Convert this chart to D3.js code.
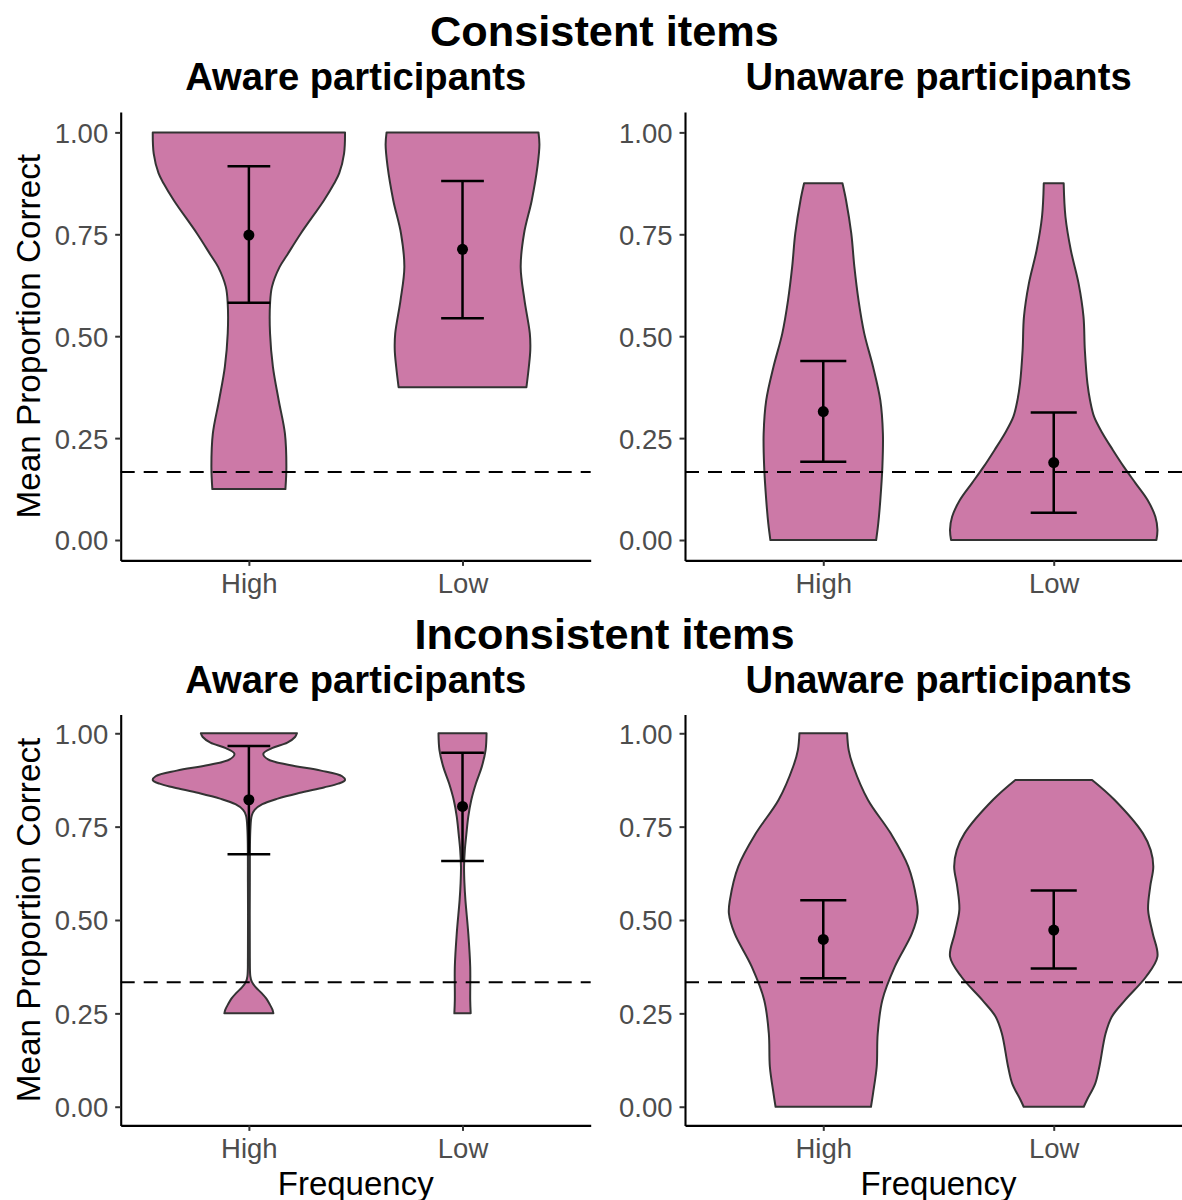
<!DOCTYPE html>
<html>
<head>
<meta charset="utf-8">
<script src="https://cdn.jsdelivr.net/npm/d3@7"></script>
<style>
  body { margin: 0; background: #ffffff; }
  text { font-family: "Liberation Sans", Arial, Helvetica, sans-serif; }
</style>
</head>
<body>
<svg id="chart" width="1182" height="1200"></svg>
<script>
// ---- Data -------------------------------------------------------------
const frequencies = ["High", "Low"];
const yTicks = [0, 0.25, 0.5, 0.75, 1];
const chanceConsistent = 0.1667;
const chanceInconsistent = 0.3333;

// Violin density profiles: [proportion correct, scaled density (1 = widest in panel)]
const caHighDensity = [[0.125,0.38],[0.18,0.39],[0.261,0.375],[0.343,0.31],[0.425,0.25],[0.507,0.22],[0.58,0.22],[0.621,0.24],[0.67,0.32],[0.7,0.40],[0.752,0.54],[0.833,0.78],[0.874,0.885],[0.9,0.94],[0.948,0.99],[1.0,1.0]];
const caLowDensity = [[0.375,0.665],[0.425,0.69],[0.466,0.705],[0.507,0.70],[0.588,0.645],[0.67,0.605],[0.752,0.64],[0.833,0.72],[0.917,0.78],[0.97,0.80],[1.0,0.79]];
const cuHighDensity = [[0,0.51],[0.04,0.53],[0.098,0.55],[0.18,0.57],[0.261,0.575],[0.343,0.55],[0.425,0.48],[0.507,0.395],[0.588,0.34],[0.67,0.30],[0.752,0.27],[0.833,0.22],[0.875,0.185]];
const cuLowDensity = [[0,0.99],[0.025,1.0],[0.057,0.98],[0.098,0.905],[0.139,0.79],[0.18,0.675],[0.221,0.57],[0.262,0.47],[0.302,0.39],[0.343,0.35],[0.384,0.325],[0.466,0.30],[0.548,0.287],[0.629,0.24],[0.711,0.165],[0.793,0.113],[0.875,0.096]];
const iaHighDensity = [[0.25,0.255],[0.26,0.245],[0.275,0.215],[0.29,0.18],[0.305,0.13],[0.32,0.07],[0.335,0.03],[0.35,0.015],[0.4,0.01],[0.6,0.01],[0.74,0.015],[0.78,0.03],[0.795,0.06],[0.81,0.14],[0.825,0.30],[0.84,0.52],[0.855,0.78],[0.865,0.93],[0.875,1.0],[0.885,0.97],[0.9,0.75],[0.915,0.42],[0.93,0.20],[0.945,0.15],[0.96,0.24],[0.975,0.40],[0.99,0.48],[1.0,0.50]];
const iaLowDensity = [[0.25,0.085],[0.286,0.08],[0.375,0.08],[0.464,0.06],[0.554,0.03],[0.598,0.02],[0.643,0.016],[0.687,0.024],[0.73,0.04],[0.777,0.06],[0.82,0.09],[0.866,0.14],[0.91,0.20],[0.955,0.24],[1.0,0.25]];
const iuHighDensity = [[0,0.46],[0.036,0.48],[0.107,0.515],[0.196,0.525],[0.286,0.57],[0.375,0.69],[0.464,0.855],[0.518,0.91],[0.554,0.90],[0.643,0.82],[0.732,0.65],[0.822,0.43],[0.911,0.29],[0.955,0.245],[1.0,0.23]];
const iuLowDensity = [[0,0.29],[0.018,0.32],[0.062,0.40],[0.107,0.44],[0.196,0.50],[0.241,0.56],[0.286,0.69],[0.348,0.89],[0.402,1.0],[0.464,0.955],[0.527,0.91],[0.589,0.93],[0.643,0.96],[0.687,0.935],[0.732,0.86],[0.822,0.585],[0.875,0.37]];

// Means with lower / upper error-bar limits, ordered as frequencies
const caMean = [0.748, 0.713], caLower = [0.582, 0.544], caUpper = [0.917, 0.881];
const cuMean = [0.315, 0.190], cuLower = [0.192, 0.067], cuUpper = [0.439, 0.313];
const iaMean = [0.822, 0.804], iaLower = [0.676, 0.658], iaUpper = [0.966, 0.948];
const iuMean = [0.448, 0.473], iuLower = [0.344, 0.370], iuUpper = [0.553, 0.579];

const groupTitles = ["Consistent items", "Inconsistent items"];
const panelTitles = ["Aware participants", "Unaware participants"];
const yTitle = "Mean Proportion Correct";
const xTitle = "Frequency";

// ---- Layout -----------------------------------------------------------
const cols = [{ left: 120.7, right: 590.7 }, { left: 685, right: 1192 }];
const rows = [{ top: 112, bottom: 560.4, offset: 0 }, { top: 714.6, bottom: 1125.4, offset: 603 }];
const fill = "#CC79A7";
const outline = "#333333";
const tickGrey = "#4D4D4D";

const panels = [
  { row: 0, col: 0, dens: [caHighDensity, caLowDensity], mean: caMean, lo: caLower, hi: caUpper, chance: chanceConsistent },
  { row: 0, col: 1, dens: [cuHighDensity, cuLowDensity], mean: cuMean, lo: cuLower, hi: cuUpper, chance: chanceConsistent },
  { row: 1, col: 0, dens: [iaHighDensity, iaLowDensity], mean: iaMean, lo: iaLower, hi: iaUpper, chance: chanceInconsistent },
  { row: 1, col: 1, dens: [iuHighDensity, iuLowDensity], mean: iuMean, lo: iuLower, hi: iuUpper, chance: chanceInconsistent }
];

const svg = d3.select("#chart");
svg.append("rect").attr("width", 1182).attr("height", 1200).attr("fill", "#fff");

// Group titles
groupTitles.forEach((t, i) => {
  svg.append("text")
    .attr("x", 604.5).attr("y", 46 + rows[i].offset)
    .attr("text-anchor", "middle")
    .attr("font-size", 43.3).attr("font-weight", "bold").attr("fill", "#000")
    .text(t);
});

panels.forEach(p => {
  const c = cols[p.col], r = rows[p.row];
  const g = svg.append("g");

  const x = d3.scalePoint().domain(frequencies).range([c.left, c.right]).padding(0.6);
  const y = d3.scaleLinear().domain([-0.05, 1.05]).range([r.bottom, r.top]);
  const half = d3.scaleLinear().domain([0, 1]).range([0, 0.45 * x.step()]);
  const cap = 0.1 * x.step();

  // Panel title
  g.append("text")
    .attr("x", (c.left + c.right) / 2).attr("y", 90 + r.offset)
    .attr("text-anchor", "middle")
    .attr("font-size", 38.2).attr("font-weight", "bold").attr("fill", "#000")
    .text(panelTitles[p.col]);

  // Violins
  frequencies.forEach((f, i) => {
    const cx = x(f);
    const area = d3.area()
      .curve(d3.curveCatmullRom.alpha(0.5))
      .y(d => y(d[0]))
      .x0(d => cx - Math.max(0.6, half(d[1])))
      .x1(d => cx + Math.max(0.6, half(d[1])));
    g.append("path")
      .datum(p.dens[i].slice().sort((a, b) => a[0] - b[0]))
      .attr("d", area)
      .attr("fill", fill)
      .attr("stroke", outline)
      .attr("stroke-width", 2)
      .attr("stroke-linejoin", "round");
  });

  // Chance level
  g.append("line")
    .attr("x1", c.left).attr("x2", c.right)
    .attr("y1", y(p.chance)).attr("y2", y(p.chance))
    .attr("stroke", "#000").attr("stroke-width", 2)
    .attr("stroke-dasharray", "14,9");

  // Error bars and means
  frequencies.forEach((f, i) => {
    const cx = x(f);
    const eb = g.append("g").attr("stroke", "#000").attr("stroke-width", 2.5);
    eb.append("line").attr("x1", cx).attr("x2", cx).attr("y1", y(p.lo[i])).attr("y2", y(p.hi[i]));
    eb.append("line").attr("x1", cx - cap).attr("x2", cx + cap).attr("y1", y(p.lo[i])).attr("y2", y(p.lo[i]));
    eb.append("line").attr("x1", cx - cap).attr("x2", cx + cap).attr("y1", y(p.hi[i])).attr("y2", y(p.hi[i]));
    g.append("circle").attr("cx", cx).attr("cy", y(p.mean[i])).attr("r", 5.5).attr("fill", "#000");
  });

  // Axes
  const yAxis = g.append("g")
    .attr("transform", `translate(${c.left},0)`)
    .call(d3.axisLeft(y).tickValues(yTicks).tickFormat(d3.format(".2f")).tickSize(5.5).tickSizeOuter(0).tickPadding(7));
  const xAxis = g.append("g")
    .attr("transform", `translate(0,${r.bottom})`)
    .call(d3.axisBottom(x).tickSize(5.5).tickSizeOuter(0).tickPadding(7.5));
  [yAxis, xAxis].forEach(a => {
    a.select(".domain").attr("stroke", "#000").attr("stroke-width", 2.1);
    a.selectAll(".tick line").attr("stroke", "#333333").attr("stroke-width", 2);
    a.selectAll(".tick text").attr("fill", tickGrey).attr("font-size", 27.5)
      .attr("font-family", "Liberation Sans, Arial, sans-serif");
  });
  yAxis.selectAll(".tick text").attr("dy", "0.36em");

  // Axis titles
  if (p.col === 0) {
    g.append("text")
      .attr("transform", `translate(40,${(r.top + r.bottom) / 2}) rotate(-90)`)
      .attr("text-anchor", "middle")
      .attr("font-size", 33.3).attr("fill", "#000")
      .text(yTitle);
  }
  if (p.row === 1) {
    g.append("text")
      .attr("x", (c.left + c.right) / 2).attr("y", 1195)
      .attr("text-anchor", "middle")
      .attr("font-size", 33).attr("fill", "#000")
      .text(xTitle);
  }
});
</script>
</body>
</html>
